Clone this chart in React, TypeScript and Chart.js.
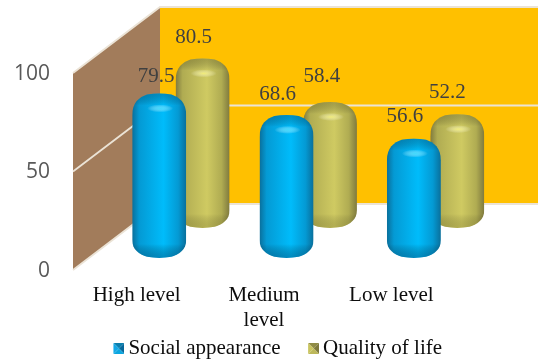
import React, { useEffect, useRef } from "react";
import Chart, { BarController } from "chart.js/auto";

// Respondent groups and the two measured scores.
const categories = ["High level", ["Medium", "level"], "Low level"];
const socialAppearance = [79.5, 68.6, 56.6];
const qualityOfLife = [80.5, 58.4, 52.2];
const valueTicks = [0, 50, 100];

// Oblique projection from the front plane to the back wall.
const DEPTH_X = 87;
const DEPTH_Y = -66;
const SERIF = '"Liberation Serif", serif';

const bluePaint = {
  edge: "#0a6f9b", mid: "#049ad4", bright: "#00bcfb", cap: "rgba(6,70,105,0.38)",
  glow: "rgba(80,225,255,0.8)", shade: "rgba(4,70,110,0.42)",
};
const olivePaint = {
  edge: "#7f7a3e", mid: "#b0ac52", bright: "#cfca62", cap: "rgba(90,86,35,0.38)",
  glow: "rgba(250,245,125,0.8)", shade: "rgba(120,115,45,0.3)",
};

function shiftIntoDepth(dataset: any, x: number, y: number) {
  return { x: x + DEPTH_X * dataset.depth + dataset.sideways, y: y + DEPTH_Y * dataset.depth };
}

function drawCylinder(ctx: CanvasRenderingContext2D, cx: number, top: number, base: number, halfW: number, dataset: any) {
  const paint = dataset.paint;
  const T = top - dataset.domeTop;
  const B = base + dataset.domeBottom;
  const l = cx - halfW;
  const r = cx + halfW;
  ctx.save();
  ctx.beginPath();
  ctx.moveTo(l, T + 22);
  ctx.bezierCurveTo(l, T + 9, l + 7, T + 4, cx - halfW * 0.45, T + 1.2);
  ctx.quadraticCurveTo(cx, T - 1, cx + halfW * 0.45, T + 1.2);
  ctx.bezierCurveTo(r - 7, T + 4, r, T + 9, r, T + 22);
  ctx.lineTo(r, B - 18);
  ctx.bezierCurveTo(r, B - 8, r - 7, B - 4, cx + halfW * 0.45, B - 1.2);
  ctx.quadraticCurveTo(cx, B + 1, cx - halfW * 0.45, B - 1.2);
  ctx.bezierCurveTo(l + 7, B - 4, l, B - 8, l, B - 18);
  ctx.closePath();
  ctx.clip();

  // Round body: dark rims with a bright band just right of centre.
  const body = ctx.createLinearGradient(l, 0, r, 0);
  body.addColorStop(0, paint.edge);
  body.addColorStop(0.13, paint.mid);
  body.addColorStop(0.58, paint.bright);
  body.addColorStop(0.85, paint.mid);
  body.addColorStop(1, paint.edge);
  ctx.fillStyle = body;
  ctx.fillRect(l, T - 2, r - l, B - T + 4);

  // Darker flat top that fades out into the bevel.
  const cap = ctx.createLinearGradient(0, T, 0, T + 12);
  cap.addColorStop(0, paint.cap);
  cap.addColorStop(1, "rgba(0,0,0,0)");
  ctx.fillStyle = cap;
  ctx.fillRect(l, T - 2, r - l, 14);

  // Specular spot on the bevel.
  ctx.save();
  ctx.translate(cx + 1, T + 15);
  ctx.scale(1, 0.3);
  const glow = ctx.createRadialGradient(0, 0, 0, 0, 0, 13);
  glow.addColorStop(0, paint.glow);
  glow.addColorStop(1, "rgba(255,255,255,0)");
  ctx.fillStyle = glow;
  ctx.fillRect(-14, -14, 28, 28);
  ctx.restore();

  // Lower bevel turns away from the light.
  const foot = ctx.createLinearGradient(0, B - 14, 0, B);
  foot.addColorStop(0, "rgba(0,0,0,0)");
  foot.addColorStop(1, paint.shade);
  ctx.fillStyle = foot;
  ctx.fillRect(l, B - 14, r - l, 16);
  ctx.restore();
}

class CylinderController extends BarController {
  static id = "cylinder";
  static defaults = BarController.defaults;
  draw() {
    const ctx = this.chart.ctx;
    const dataset: any = this.getDataset();
    this.getMeta().data.forEach((bar: any) => {
      const head = shiftIntoDepth(dataset, bar.x, bar.y);
      const foot = shiftIntoDepth(dataset, bar.x, bar.base);
      drawCylinder(ctx, head.x, head.y, foot.y, bar.width / 2, dataset);
    });
  }
}
Chart.register(CylinderController);

// The side wall, back wall and their gridlines, all taken from the scales.
const wallsPlugin = {
  id: "walls",
  beforeDatasetsDraw(chart: any) {
    const { ctx, scales } = chart;
    const left = scales.x.left;
    const right = scales.x.right;
    const y0 = scales.y.getPixelForValue(0);
    const y100 = scales.y.getPixelForValue(100);
    ctx.save();
    ctx.fillStyle = "#ffc000";
    ctx.fillRect(left + DEPTH_X, y100 + DEPTH_Y, right - left, y0 - y100);
    ctx.fillStyle = "#a27c5b";
    ctx.beginPath();
    ctx.moveTo(left, y100);
    ctx.lineTo(left + DEPTH_X, y100 + DEPTH_Y);
    ctx.lineTo(left + DEPTH_X, y0 + DEPTH_Y);
    ctx.lineTo(left, y0);
    ctx.closePath();
    ctx.fill();
    ctx.strokeStyle = "#ebe3d6";
    ctx.lineWidth = 1.8;
    for (const tick of valueTicks) {
      const y = scales.y.getPixelForValue(tick);
      ctx.beginPath();
      ctx.moveTo(left, y);
      ctx.lineTo(left + DEPTH_X, y + DEPTH_Y);
      ctx.lineTo(right + DEPTH_X, y + DEPTH_Y);
      ctx.stroke();
    }
    ctx.restore();
  },
};

// A few value labels sit off their usual spot so they clear the next cylinder.
const labelNudges: Record<string, [number, number]> = {
  "0:0": [6, 6],
  "0:1": [0, 3],
  "0:2": [0, 1],
  "1:0": [0, 2],
  "1:1": [1, -2],
  "1:2": [-1, 1],
};

const valueLabelsPlugin = {
  id: "valueLabels",
  afterDatasetsDraw(chart: any) {
    const { ctx } = chart;
    ctx.save();
    ctx.font = `21px ${SERIF}`;
    ctx.fillStyle = "#404040";
    ctx.textAlign = "center";
    ctx.textBaseline = "middle";
    chart.data.datasets.forEach((dataset: any, di: number) => {
      chart.getDatasetMeta(di).data.forEach((bar: any, i: number) => {
        const head = shiftIntoDepth(dataset, bar.x, bar.y);
        const [nx, ny] = labelNudges[`${di}:${i}`] ?? [0, 0];
        ctx.fillText(dataset.data[i].toFixed(1), head.x - 9 + nx, head.y - dataset.domeTop - 23 + ny);
      });
    });
    ctx.restore();
  },
};

// Moves the legend to its row under the axis labels and lets the
// category labels use the space down to the canvas edge.
const legendPlacement = {
  id: "legendPlacement",
  afterLayout(chart: any) {
    const legend = chart.legend;
    const padding = legend.options.labels.padding;
    const width = legend.right - legend.left;
    legend.left = 280 - width / 2;
    legend.right = legend.left + width;
    legend.top = 338 - padding;
    chart.scales.x.bottom = chart.height;
  },
};

function bevelSwatch(shades: string[]) {
  const size = 11;
  const c = document.createElement("canvas");
  c.width = size + 2;
  c.height = size;
  const g = c.getContext("2d")!;
  g.translate(2, 0);
  const corners = [[0, 0], [size, 0], [size, size], [0, size]];
  shades.forEach((shade, i) => {
    const a = corners[i];
    const b = corners[(i + 1) % 4];
    g.fillStyle = shade;
    g.beginPath();
    g.moveTo(a[0], a[1]);
    g.lineTo(b[0], b[1]);
    g.lineTo(size / 2, size / 2);
    g.closePath();
    g.fill();
  });
  return c;
}

export default function App() {
  const ref = useRef<HTMLCanvasElement>(null);
  useEffect(() => {
    const swatches = [
      bevelSwatch(["#0b7fae", "#06679a", "#0ba6e0", "#14a8e6"]),
      bevelSwatch(["#8f8b45", "#7d783c", "#bdb85a", "#c9c45e"]),
    ];
    const chart = new Chart(ref.current!, {
      type: "cylinder" as any,
      data: {
        labels: categories as any,
        datasets: [
          {
            label: "Social appearance", data: socialAppearance, backgroundColor: "#00b0f0",
            paint: bluePaint, depth: 0.242, sideways: 1.5, domeTop: 4, domeBottom: 4, clip: false,
          },
          {
            label: "Quality of life", data: qualityOfLife, backgroundColor: "#c4bd5a",
            paint: olivePaint, depth: 0.712, sideways: 4, domeTop: 6, domeBottom: 5, clip: false,
          },
        ] as any,
      },
      options: {
        animation: false,
        responsive: false,
        grouped: false,
        barThickness: 54,
        layout: { padding: { top: 73, right: 83, left: 0, bottom: 0 } },
        scales: {
          x: {
            grid: { display: false },
            border: { display: false },
            afterFit(scale: any) {
              scale.height = 361 - 270 - (scale.chart.legend?.height ?? 0);
            },
            ticks: {
              color: "#0d0d0d",
              font: { family: SERIF, size: 21, lineHeight: 1.19 },
              maxRotation: 0,
              autoSkip: false,
              padding: 5,
            },
          },
          y: {
            min: 0,
            max: 100,
            grid: { display: false },
            border: { display: false },
            afterFit(scale: any) {
              scale.width = 73;
            },
            afterBuildTicks(scale: any) {
              scale.ticks = valueTicks.map((value) => ({ value }));
            },
            ticks: {
              color: "#595959",
              font: { family: '"Open Sans", sans-serif', size: 21 },
              padding: 15,
              labelOffset: 1,
            },
          },
        },
        plugins: {
          tooltip: { enabled: false },
          legend: {
            position: "bottom",
            labels: {
              color: "#0d0d0d",
              font: { family: SERIF, size: 21 },
              usePointStyle: true,
              boxWidth: 0,
              pointStyleWidth: 0.01,
              padding: 32,
              generateLabels: (c: any) =>
                c.data.datasets.map((d: any, i: number) => ({
                  text: d.label,
                  pointStyle: swatches[i],
                  fontColor: "#0d0d0d",
                  datasetIndex: i,
                  hidden: false,
                })),
            },
          },
        },
      } as any,
      plugins: [wallsPlugin, valueLabelsPlugin, legendPlacement],
    });
    return () => chart.destroy();
  }, []);
  return (
    <div style={{ position: "fixed", left: 0, top: 0, width: 538, height: 361, background: "#fff" }}>
      <canvas ref={ref} width={538} height={361} style={{ display: "block" }} />
    </div>
  );
}
